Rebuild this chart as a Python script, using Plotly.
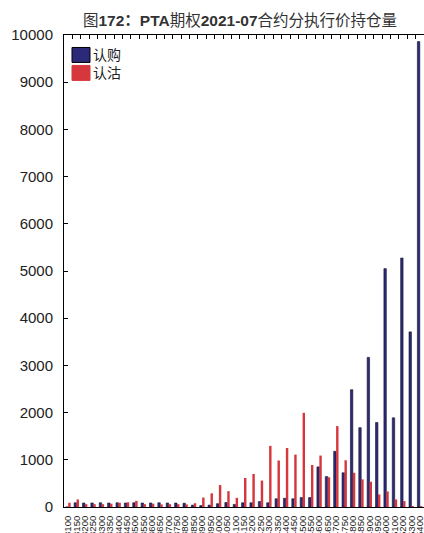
import plotly.graph_objects as go

# ── DATA ──────────────────────────────────────────────────────────────────────

STRIKES = [
    "3100", "3150", "3200", "3250", "3300", "3350", "3400", "3450", "3500", "3550",
    "3600", "3650", "3700", "3750", "3800", "3850", "3900", "3950", "4000", "4050",
    "4100", "4150", "4200", "4250", "4300", "4350", "4400", "4450", "4500", "4550",
    "4600", "4650", "4700", "4750", "4800", "4850", "4900", "4950", "5000", "5100",
    "5200", "5300", "5400",
]

CALL_OI = [
    0, 90, 85, 85, 90, 85, 90, 85, 90, 85,
    85, 90, 85, 85, 80, 40, 30, 40, 70, 95,
    55, 90, 90, 115, 90, 175, 185, 175, 200, 200,
    850, 645, 1180, 725, 2485, 1680, 3170, 1790, 5050, 1890,
    5275, 3710, 9860,
]

PUT_OI = [
    90, 160, 60, 60, 60, 70, 90, 100, 130, 60,
    70, 55, 60, 60, 55, 80, 200, 290, 465, 335,
    195, 615, 700, 560, 1295, 985, 1250, 1110, 1995, 890,
    1090, 630, 1715, 990, 725, 585, 535, 265, 330, 160,
    125, 15, 20,
]

SERIES_NAMES = ["认购", "认沽"]
TITLE = "图<b>172：PTA</b>期权<b>2021-07</b>合约分执行价持仓量"

# ── STYLE ─────────────────────────────────────────────────────────────────────

NAVY = "#2C2A78"
RED  = "#D6373C"
FONT = "Arial, Liberation Sans, Noto Sans CJK SC, sans-serif"

W, H = 424, 533
M_L, M_R, M_T, M_B = 64, 0, 34.5, 25.5

# ── FIGURE ────────────────────────────────────────────────────────────────────

fig = go.Figure()

fig.add_trace(go.Bar(
    x=STRIKES, y=CALL_OI, name=SERIES_NAMES[0],
    marker=dict(color=NAVY, line=dict(color="#15142e", width=0.6)),
))
fig.add_trace(go.Bar(
    x=STRIKES, y=PUT_OI, name=SERIES_NAMES[1],
    marker=dict(color=RED, line=dict(width=0)),
))

# empty trace so the top axis (mirror ticks on category boundaries) is drawn
fig.add_trace(go.Scatter(x=[None], y=[None], xaxis="x2", showlegend=False,
                         hoverinfo="skip"))

# custom legend: big swatches top-left inside the plot
plot_w = W - M_L - M_R
plot_h = H - M_T - M_B

def px_x(x):
    return (x - M_L) / plot_w

def px_y(y):
    return 1 - (y - M_T) / plot_h

legend_rows = [(SERIES_NAMES[0], NAVY, "black", 47, 62), (SERIES_NAMES[1], RED, RED, 65, 80)]
for name, fill, edge, y0, y1 in legend_rows:
    fig.add_shape(type="rect", xref="paper", yref="paper",
                  x0=px_x(72), x1=px_x(90), y0=px_y(y1), y1=px_y(y0),
                  fillcolor=fill, line=dict(color=edge, width=1))
    fig.add_annotation(xref="paper", yref="paper", x=px_x(91), y=px_y((y0 + y1) / 2),
                       text=name, showarrow=False, xanchor="left", yanchor="middle",
                       font=dict(size=14, color="#222", family=FONT))

fig.update_layout(
    width=W, height=H,
    margin=dict(l=M_L, r=M_R, t=M_T, b=M_B, autoexpand=False),
    paper_bgcolor="white", plot_bgcolor="white",
    barmode="group", bargap=0.42, bargroupgap=0,
    showlegend=False,
    font=dict(family=FONT, color="#222"),
    title=dict(text=TITLE, x=240 / W, y=1 - 21 / H, xref="container", yref="container",
               xanchor="center", yanchor="middle",
               font=dict(size=15.5, color="#333", family=FONT)),
    xaxis=dict(
        type="category", range=[-0.5, len(STRIKES) - 0.5],
        tickmode="array", tickvals=STRIKES, ticktext=STRIKES,
        showline=True, linecolor="black", linewidth=1,
        ticks="", tickangle=-90, tickfont=dict(size=9.5, color="#222"),
        showgrid=False, automargin=False, ticklabelstandoff=4,
    ),
    xaxis2=dict(
        overlaying="x", side="top", anchor="y",
        range=[-0.5, len(STRIKES) - 0.5],
        tickvals=[i - 0.5 for i in range(len(STRIKES) + 1)],
        showticklabels=False, ticks="inside", ticklen=4, tickcolor="black",
        showline=True, linecolor="black", linewidth=1, showgrid=False,
        zeroline=False,
    ),
    yaxis=dict(
        range=[0, 10000], tickvals=list(range(0, 10001, 1000)), tickformat="d",
        showline=True, linecolor="black", linewidth=1,
        ticks="inside", ticklen=4, tickcolor="black",
        tickfont=dict(size=15, color="#222"),
        showgrid=False, zeroline=False, automargin=False, ticklabelstandoff=7,
    ),
)

# page has a default 8px body margin; drop it so the figure fills the window
fig.write_html("out.html", config={"displayModeBar": False},
               post_script="document.body.style.margin='0';")
